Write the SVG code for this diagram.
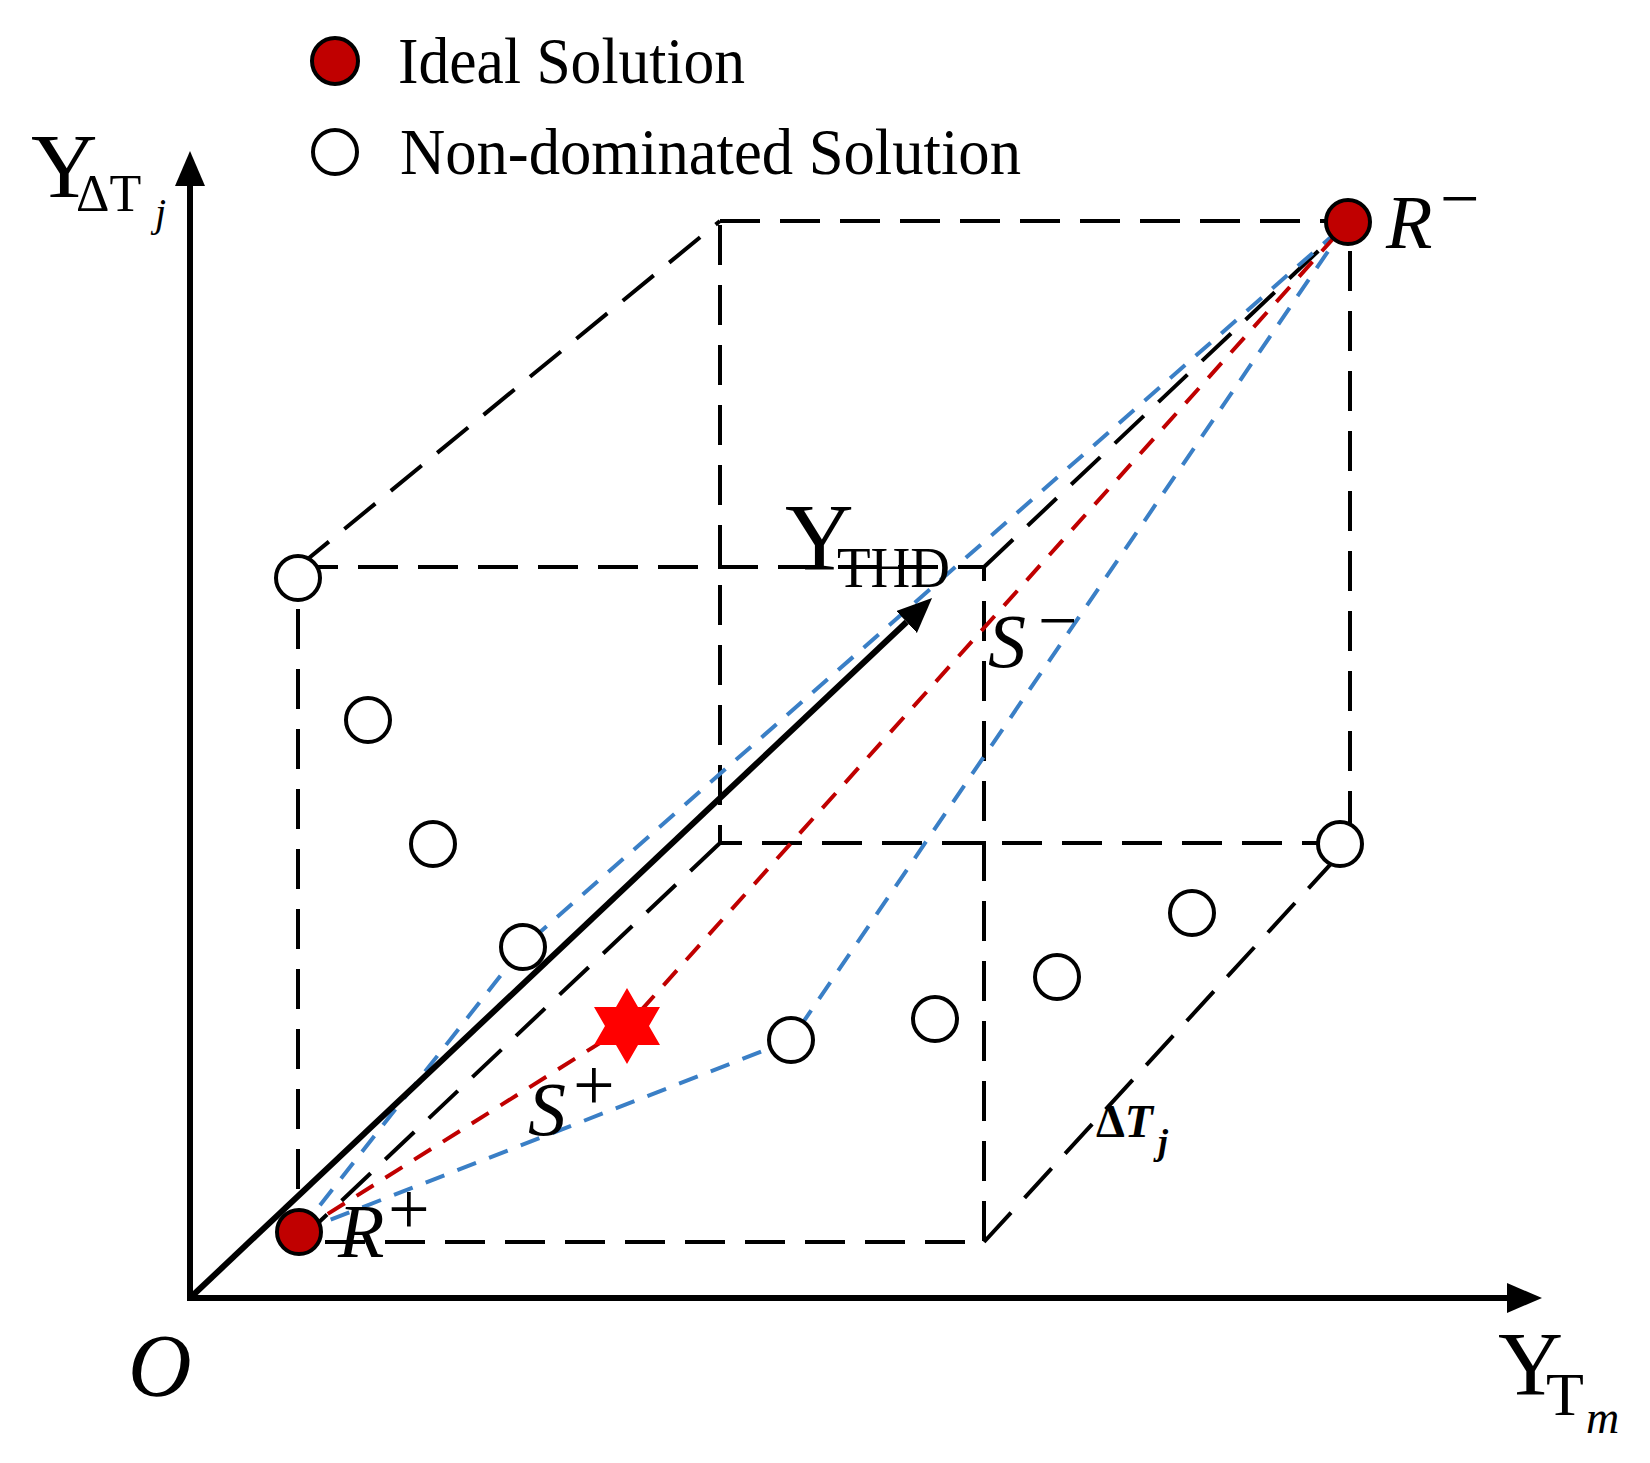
<svg xmlns="http://www.w3.org/2000/svg" width="1650" height="1463" viewBox="0 0 1650 1463">
<defs>
<style>
.box{fill:none;stroke:#000;stroke-width:4;stroke-dasharray:40 20}
.blue{fill:none;stroke:#3A7FC6;stroke-width:4;stroke-dasharray:20 14}
.red{fill:none;stroke:#C00000;stroke-width:4;stroke-dasharray:20 14}
.axis{fill:none;stroke:#000;stroke-width:6}
.pt{fill:#fff;stroke:#000;stroke-width:4}
.ideal{fill:#C00000;stroke:#000;stroke-width:4}
.t{font-family:"Liberation Serif","Times New Roman",serif;fill:#000}
.i{font-style:italic}
</style>
<marker id="ah" markerUnits="userSpaceOnUse" markerWidth="40" markerHeight="34" refX="0" refY="15" orient="auto">
<path d="M0,0 L35,15 L0,30 z" fill="#000"/>
</marker>
</defs>
<rect width="1650" height="1463" fill="#fff"/>

<g id="connectors">
<path class="box" d="M298,567 H984 V1242 H298 Z"/>
<path class="box" d="M720,221 H1350 V843 H720 Z"/>
<line class="box" x1="298" y1="567" x2="720" y2="221"/>
<line class="box" x1="984" y1="567" x2="1350" y2="221"/>
<line class="box" x1="298" y1="1242" x2="720" y2="843"/>
<line class="box" x1="984" y1="1242" x2="1350" y2="843"/>
<polyline class="blue" points="299,1232 523,947 1348,222"/>
<polyline class="blue" points="299,1232 791,1040 1348,222"/>
<polyline class="red" points="299,1232 627,1026 1348,222"/>
<line class="axis" x1="190" y1="1301" x2="190" y2="186" marker-end="url(#ah)"/>
<line class="axis" x1="187" y1="1298" x2="1507" y2="1298" marker-end="url(#ah)"/>
<line class="axis" x1="190" y1="1298" x2="906.6" y2="622" marker-end="url(#ah)"/>
</g>

<g id="legend">
<circle class="ideal" cx="335" cy="61" r="23"/>
<text class="t" x="398" y="83" font-size="66" textLength="347" lengthAdjust="spacingAndGlyphs">Ideal Solution</text>
<circle class="pt" cx="335" cy="152" r="22"/>
<text class="t" x="400" y="174" font-size="66" textLength="621" lengthAdjust="spacingAndGlyphs">Non-dominated Solution</text>
</g>

<g id="axis-labels">
<text class="t" x="31" y="197" font-size="92">Y<tspan x="76" y="211" font-size="52">ΔT</tspan><tspan class="i" x="155" y="226" font-size="40">j</tspan></text>
<text class="t i" x="128" y="1395" font-size="88">O</text>
<text class="t" x="1498" y="1395" font-size="90">Y<tspan x="1546" y="1415" font-size="62">T</tspan><tspan class="i" x="1586" y="1433" font-size="46">m</tspan></text>
<text class="t" x="785" y="570" font-size="95">Y<tspan x="837" y="587" font-size="58" textLength="113" lengthAdjust="spacingAndGlyphs">THD</tspan></text>
<text class="t" x="1096" y="1137" font-size="46" font-weight="bold">Δ<tspan class="i">T</tspan><tspan class="i" x="1158" y="1154" font-size="36">j</tspan></text>
</g>

<g id="R-plus">
<circle class="ideal" cx="299" cy="1232" r="22"/>
<text class="t i" x="338" y="1257" font-size="76">R<tspan class="t" style="font-style:normal" x="388" y="1234" font-size="74">+</tspan></text>
</g>

<g id="R-minus">
<circle class="ideal" cx="1348" cy="222" r="22"/>
<text class="t i" x="1386" y="248" font-size="76">R<tspan style="font-style:normal" x="1440" y="222" font-size="70">−</tspan></text>
</g>

<g id="S-plus">
<text class="t i" x="528" y="1135" font-size="76">S<tspan style="font-style:normal" x="573" y="1110" font-size="74">+</tspan></text>
</g>

<g id="S-minus">
<text class="t i" x="988" y="667" font-size="76">S<tspan style="font-style:normal" x="1038" y="644" font-size="70">−</tspan></text>
</g>

<g id="star">
<polygon fill="#FF0000" points="627,988 638,1007 660,1007 649,1026 660,1045 638,1045 627,1064 616,1045 594,1045 605,1026 594,1007 616,1007"/>
</g>

<g id="solutions">
<circle id="p1" class="pt" cx="298" cy="578" r="22"/>
<circle id="p2" class="pt" cx="368" cy="720" r="22"/>
<circle id="p3" class="pt" cx="433" cy="844" r="22"/>
<circle id="p4" class="pt" cx="523" cy="947" r="22"/>
<circle id="p5" class="pt" cx="791" cy="1040" r="22"/>
<circle id="p6" class="pt" cx="935" cy="1019" r="22"/>
<circle id="p7" class="pt" cx="1057" cy="977" r="22"/>
<circle id="p8" class="pt" cx="1192" cy="913" r="22"/>
<circle id="p9" class="pt" cx="1340" cy="844" r="22"/>
</g>
</svg>
